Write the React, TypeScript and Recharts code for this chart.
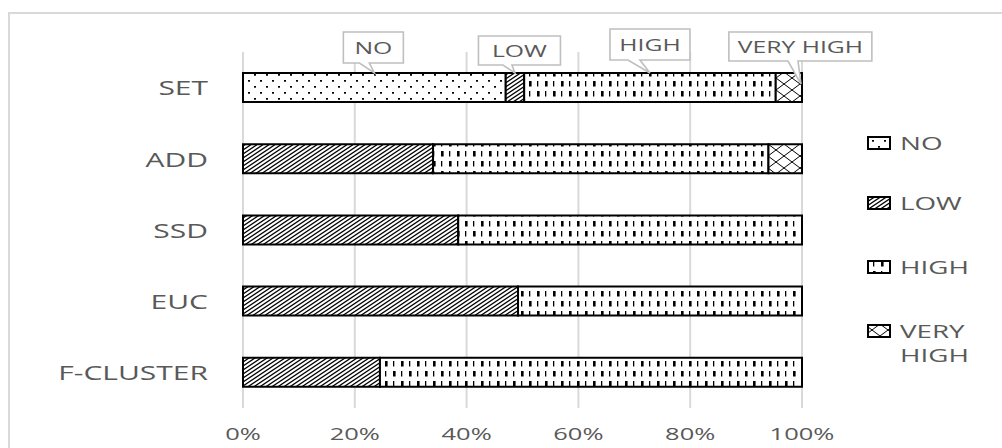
import React from 'react';
import { BarChart, Bar, XAxis, YAxis, CartesianGrid, LabelList } from 'recharts';

const categories = ['SET', 'ADD', 'SSD', 'EUC', 'F-CLUSTER'];
const seriesNames = ['NO', 'LOW', 'HIGH', 'VERY HIGH'];
const noValues = [47, 0, 0, 0, 0];
const lowValues = [3.3, 34, 38.5, 49.2, 24.5];
const highValues = [45, 60, 61.5, 50.8, 75.5];
const veryHighValues = [4.7, 6, 0, 0, 0];
const xTicks = [0, 20, 40, 60, 80, 100];

const seriesValues = [noValues, lowValues, highValues, veryHighValues];
const data = categories.map((name, i) => {
  const row: any = { name };
  seriesNames.forEach((s, k) => { row[s] = seriesValues[k][i]; });
  return row;
});

const TEXT = '#595959';
const FONT = '"Open Sans", "Noto Sans", sans-serif';
const SX = 1.5;
const patternKeys = ['no', 'low', 'high', 'vh'];

function Patterns({ p }: { p: string }) {
  return (
    <defs>
      <pattern id={p + 'no'} patternUnits="userSpaceOnUse" width={12} height={12}>
        <rect width={12} height={12} fill="#fff" />
        <rect x={2} y={2} width={2} height={1.7} fill="#000" />
        <rect x={8} y={8} width={2} height={1.7} fill="#000" />
      </pattern>
      <pattern id={p + 'low'} patternUnits="userSpaceOnUse" width={6} height={4}>
        <rect width={6} height={4} fill="#fff" />
        <path d="M0,4 L6,0 M-3,2 L3,-2 M3,6 L9,2" stroke="#000" strokeWidth={1.3} />
      </pattern>
      <pattern id={p + 'high'} patternUnits="userSpaceOnUse" width={16} height={20}>
        <rect width={16} height={20} fill="#fff" />
        <rect x={1} y={1} width={2.6} height={5.5} fill="#000" />
        <rect x={9} y={1} width={1.3} height={5.5} fill="#000" />
        <rect x={9} y={11} width={2.6} height={5.5} fill="#000" />
        <rect x={1} y={11} width={1.3} height={5.5} fill="#000" />
      </pattern>
      <pattern id={p + 'vh'} patternUnits="userSpaceOnUse" width={16} height={12}>
        <rect width={16} height={12} fill="#fff" />
        <path d="M0,0 L16,12 M16,0 L0,12" stroke="#000" strokeWidth={1} />
      </pattern>
    </defs>
  );
}

function SText({ x, y, anchor, size, children }: any) {
  return (
    <g transform={`translate(${x},${y}) scale(${SX},1)`}>
      <text x={0} y={0} textAnchor={anchor} dominantBaseline="central" fontSize={size} fontFamily={FONT} fill={TEXT}>
        {children}
      </text>
    </g>
  );
}

// callout placement relative to the SET segment (label styling)
const calloutCfg: Record<string, any> = {
  NO: { boxDx: -1, w: 60, top: 32, h: 31, tipAt: 'center', tipDy: 0, base: [-15, -5] },
  LOW: { boxDx: 4.5, w: 82, top: 36, h: 29, tipAt: 'center', tipDy: 0, base: [-12, -3] },
  HIGH: { boxDx: 0, w: 80, top: 29, h: 31, tipAt: 'center', tipDy: 0, base: [-22, -10] },
  'VERY HIGH': { boxDx: 11.5, w: 143, top: 32, h: 29, tipAt: 'end', tipDy: 11, base: [-13, -3] },
};

function makeCallout(name: string) {
  return (props: any) => {
    const { x, y, width, index } = props;
    if (index !== 0 || !width) return null;
    const c = calloutCfg[name];
    const segC = Number(x) + Number(width) / 2;
    const tipX = c.tipAt === 'end' ? Number(x) + Number(width) - 1 : segC;
    const tipY = Number(y) + c.tipDy;
    const bx = segC + c.boxDx - c.w / 2;
    const by = c.top;
    const bb = by + c.h;
    const b1 = tipX + c.base[0];
    const b2 = tipX + c.base[1];
    const d = `M${bx},${by} L${bx + c.w},${by} L${bx + c.w},${bb} L${b2},${bb} L${tipX},${tipY} L${b1},${bb} L${bx},${bb} Z`;
    return (
      <g>
        <path d={d} fill="#fff" stroke="#bfbfbf" strokeWidth={1.6} strokeLinejoin="miter" />
        <SText x={bx + c.w / 2} y={by + c.h / 2} anchor="middle" size={16.5}>{name}</SText>
      </g>
    );
  };
}

const YTick = (props: any) => {
  const { x, y, payload } = props;
  return <SText x={x} y={y} anchor="end" size={20}>{payload.value}</SText>;
};

const XTick = (props: any) => {
  const { x, y, payload } = props;
  return <SText x={x} y={y + 25} anchor="middle" size={17}>{`${payload.value}%`}</SText>;
};

const legendY = [143, 203, 267, 331];

function LegendOverlay() {
  return (
    <svg width={1002} height={448} style={{ position: 'absolute', left: 0, top: 0, pointerEvents: 'none' }}>
      <Patterns p="lg" />
      {seriesNames.map((s, i) => {
        const words = s.split(' ');
        return (
          <g key={s}>
            <rect x={868} y={legendY[i] - 6} width={22} height={12} fill={`url(#lg${patternKeys[i]})`} stroke="#000" strokeWidth={2} />
            {words.map((w, j) => (
              <SText key={w + j} x={900} y={legendY[i] + j * 24} anchor="start" size={18.5}>{w}</SText>
            ))}
          </g>
        );
      })}
    </svg>
  );
}

export default function App() {
  return (
    <div style={{ position: 'absolute', left: 0, top: 0, width: 1002, height: 448, overflow: 'hidden', background: '#fff' }}>
      <div style={{ position: 'absolute', left: 8, top: 12, width: 1200, height: 700, border: '2px solid #d9d9d9' }} />
      <div style={{ position: 'absolute', left: 0, top: 0 }}>
        <BarChart
          width={1002}
          height={448}
          data={data}
          layout="vertical"
          margin={{ top: 52, right: 200, bottom: 0, left: 0 }}
          barSize={29}
        >
          <Patterns p="ch" />
          <CartesianGrid horizontal={false} stroke="#d9d9d9" strokeWidth={2} />
          <XAxis
            type="number"
            domain={[0, 100]}
            ticks={xTicks}
            axisLine={false}
            tickLine={false}
            tickSize={0}
            tickMargin={0}
            height={40}
            tick={<XTick />}
            interval={0}
          />
          <YAxis
            type="category"
            dataKey="name"
            width={243}
            axisLine={false}
            tickLine={false}
            tickSize={0}
            tickMargin={35}
            tick={<YTick />}
            interval={0}
          />
          {seriesNames.map((s, i) => (
            <Bar key={s} dataKey={s} stackId="a" fill={`url(#ch${patternKeys[i]})`} stroke="#000" strokeWidth={2} isAnimationActive={false}>
              <LabelList dataKey={s} content={makeCallout(s)} />
            </Bar>
          ))}
        </BarChart>
      </div>
      <LegendOverlay />
    </div>
  );
}
